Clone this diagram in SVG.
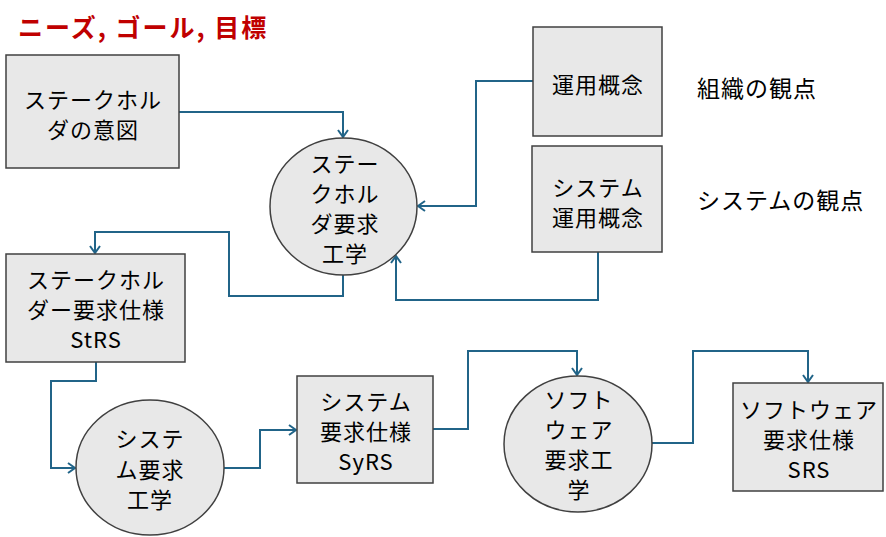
<svg xmlns="http://www.w3.org/2000/svg" width="886" height="537" viewBox="0 0 886 537">
<style>
.n{fill:#e8e8e8;stroke:#404040;stroke-width:1.5}
.t{font-family:"Noto Sans CJK JP","Noto Sans",sans-serif;font-size:22px;letter-spacing:1px;fill:#000;text-anchor:middle}
.l{font-family:"Noto Sans CJK JP","Noto Sans",sans-serif;font-size:23px;letter-spacing:1px;fill:#000}
.c{fill:none;stroke:#216488;stroke-width:2;marker-end:url(#a)}
</style>
<defs>
<marker id="a" markerUnits="userSpaceOnUse" markerWidth="14" markerHeight="14" refX="11" refY="7" orient="auto">
<path d="M4,2 L11,7 L4,12" fill="none" stroke="#216488" stroke-width="2"/>
</marker>
</defs>
<rect width="886" height="537" fill="#fff"/>
<text x="18" y="37" font-family="'Noto Sans CJK JP',sans-serif" font-size="25" font-weight="bold" letter-spacing="2" fill="#c00000">ニーズ, ゴール, 目標</text>

<g id="connectors">
<path class="c" d="M179,112 H343 V137"/>
<path class="c" d="M533,81 H476 V206 H418"/>
<path class="c" d="M598,252 V300 H396 V256"/>
<path class="c" d="M343,275 V296 H229 V232 H95 V253"/>
<path class="c" d="M96,362 V381 H51 V468 H75"/>
<path class="c" d="M224,468 H260 V430 H296"/>
<path class="c" d="M433,429 H468 V351 H577 V375"/>
<path class="c" d="M652,443 H693 V351 H808 V382"/>
</g>

<g id="n1"><rect class="n" x="6" y="55" width="173" height="113"/>
<text class="t" x="93" y="108">ステークホル</text><text class="t" x="93" y="138">ダの意図</text></g>

<g id="n2"><ellipse class="n" cx="343.5" cy="206.5" rx="73.5" ry="68.5"/>
<text class="t" x="345" y="172">ステー</text><text class="t" x="345" y="202">クホル</text><text class="t" x="345" y="232">ダ要求</text><text class="t" x="345" y="262">工学</text></g>

<g id="n3"><rect class="n" x="533" y="27" width="129" height="109"/>
<text class="t" x="598" y="93">運用概念</text></g>

<g id="n4"><rect class="n" x="532" y="146" width="130" height="106"/>
<text class="t" x="598" y="196">システム</text><text class="t" x="598" y="226">運用概念</text></g>

<text class="l" x="697" y="97">組織の観点</text>
<text class="l" x="697" y="209">システムの観点</text>

<g id="n5"><rect class="n" x="6" y="254" width="179" height="108"/>
<text class="t" x="96" y="288">ステークホル</text><text class="t" x="96" y="318">ダー要求仕様</text><text class="t" x="96" y="348">StRS</text></g>

<g id="n6"><ellipse class="n" cx="150" cy="467.5" rx="74" ry="67.5"/>
<text class="t" x="150" y="447">システ</text><text class="t" x="150" y="478">ム要求</text><text class="t" x="150" y="508">工学</text></g>

<g id="n7"><rect class="n" x="297" y="376" width="136" height="107"/>
<text class="t" x="366" y="410">システム</text><text class="t" x="366" y="440">要求仕様</text><text class="t" x="366" y="470">SyRS</text></g>

<g id="n8"><ellipse class="n" cx="578" cy="444" rx="74" ry="68"/>
<text class="t" x="579" y="408">ソフト</text><text class="t" x="579" y="438">ウェア</text><text class="t" x="579" y="468">要求工</text><text class="t" x="579" y="498">学</text></g>

<g id="n9"><rect class="n" x="733" y="383" width="150" height="108"/>
<text class="t" x="809" y="418">ソフトウェア</text><text class="t" x="809" y="448">要求仕様</text><text class="t" x="809" y="478">SRS</text></g>
</svg>
